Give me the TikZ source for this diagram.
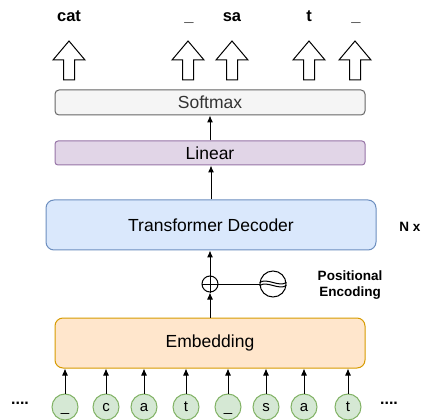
\documentclass[tikz,border=0pt]{standalone}
\usepackage{fontspec}
\setmainfont{Liberation Sans}
\usetikzlibrary{positioning}
\usetikzlibrary{arrows.meta}
\definecolor{softfill}{RGB}{245, 245, 245}
\definecolor{softline}{RGB}{102, 102, 102}
\definecolor{softtext}{RGB}{51, 51, 51}
\definecolor{linfill}{RGB}{225, 213, 231}
\definecolor{linline}{RGB}{150, 115, 166}
\definecolor{decfill}{RGB}{218, 232, 252}
\definecolor{decline}{RGB}{108, 142, 191}
\definecolor{embfill}{RGB}{255, 230, 204}
\definecolor{embline}{RGB}{215, 155, 0}
\definecolor{charfill}{RGB}{213, 232, 212}
\definecolor{charline}{RGB}{130, 179, 102}
\tikzset{
  block/.style   = {shape=rectangle, draw, line width=1pt, align=center,
                    font=\fontsize{17.5}{20}\selectfont, minimum width=310pt},
  softmax/.style = {block, rounded corners=4pt, minimum height=25pt,
                    fill=softfill, draw=softline, text=softtext},
  linear/.style  = {block, rounded corners=3pt, minimum height=24pt,
                    fill=linfill, draw=linline},
  decoder/.style = {block, rounded corners=8pt, minimum width=330pt,
                    minimum height=50pt, fill=decfill, draw=decline},
  embed/.style   = {block, rounded corners=8pt, minimum height=50pt,
                    fill=embfill, draw=embline},
  char/.style    = {circle, draw=charline, fill=charfill, line width=1pt,
                    minimum size=26pt, inner sep=0pt, text height=11pt, text depth=3pt,
                    font=\fontsize{15}{18}\selectfont},
  token/.style   = {anchor=base, font=\bfseries\fontsize{16.5}{20}\selectfont},
  note/.style    = {align=center, font=\bfseries\fontsize{13.5}{16}\selectfont},
  outarrow/.pic  = {\draw[line width=1pt, fill=white]
                    (-5.5,0) -- (-5.5,-20) -- (-16,-20) -- (0,-39) -- (16,-20)
                    -- (5.5,-20) -- (5.5,0) -- cycle;}
}
\begin{document}
\begin{tikzpicture}
  [
    x = 1pt,
    y = -1pt,
    >               = {Latex[length=7pt, width=6pt]},
    every path/.style = {line width=1pt}
  ]
  \useasboundingbox (0,0) rectangle (432,420);
  \node [token] (ycat) at (69,21.5) {cat};
  \node [token] (ysp1) at (189,21.5) {\_};
  \node [token] (ysa) at (232,21.5) {sa};
  \node [token] (yt) at (309,21.5) {t};
  \node [token] (ysp2) at (356,21.5) {\_};
  \pic at (69,80) {outarrow};
  \pic at (188,80) {outarrow};
  \pic at (232,80) {outarrow};
  \pic at (309,80) {outarrow};
  \pic at (355,80) {outarrow};
  \node [softmax] (soft) at (210,102.5) {Softmax};
  \node [linear] (lin) at (210,153) {Linear};
  \node [decoder] (dec) at (211,225) {Transformer Decoder};
  \node [note] (nx) at (410,227) {N x};
  \node [circle, draw, minimum size=16pt, inner sep=0pt] (plus) at (210,284) {};
  \draw (plus.north) -- (plus.south) (plus.west) -- (plus.east);
  \node [circle, draw, minimum size=26pt, inner sep=0pt] (pe) at (273,284) {};
  \draw ([yshift=1.5pt]pe.west) .. controls +(8,-5) and +(-8,5) .. ([yshift=1.5pt]pe.east);
  \draw ([yshift=-1.5pt]pe.west) .. controls +(8,-5) and +(-8,5) .. ([yshift=-1.5pt]pe.east);
  \node [note] (pelabel) at (350,285) {Positional\\Encoding};
  \node [embed] (emb) at (210,343) {Embedding};
  \node [char] (c1) at (65,407) {\_};
  \node [char] (c2) at (106,407) {c};
  \node [char] (c3) at (144,407) {a};
  \node [char] (c4) at (186,407) {t};
  \node [char] (c5) at (228,407) {\_};
  \node [char] (c6) at (266,407) {s};
  \node [char] (c7) at (304,407) {a};
  \node [char] (c8) at (348,407) {t};
  \node [note, font=\bfseries\fontsize{16}{18}\selectfont] (dotsl) at (20,403) {....};
  \node [note, font=\bfseries\fontsize{16}{18}\selectfont] (dotsr) at (389,403) {....};
  \path[->] (lin.north) edge (lin.north |- soft.south);
  \path[->] (dec.north) edge (dec.north |- lin.south);
  \path[->] (plus.north) edge (plus.north |- dec.south);
  \path[->] (emb.north) edge (plus.south);
  \path (pe) edge (plus);
  \path[->] (c1) edge (c1.north |- emb.south);
  \path[->] (c2) edge (c2.north |- emb.south);
  \path[->] (c3) edge (c3.north |- emb.south);
  \path[->] (c4) edge (c4.north |- emb.south);
  \path[->] (c5) edge (c5.north |- emb.south);
  \path[->] (c6) edge (c6.north |- emb.south);
  \path[->] (c7) edge (c7.north |- emb.south);
  \path[->] (c8) edge (c8.north |- emb.south);
\end{tikzpicture}
\end{document}
